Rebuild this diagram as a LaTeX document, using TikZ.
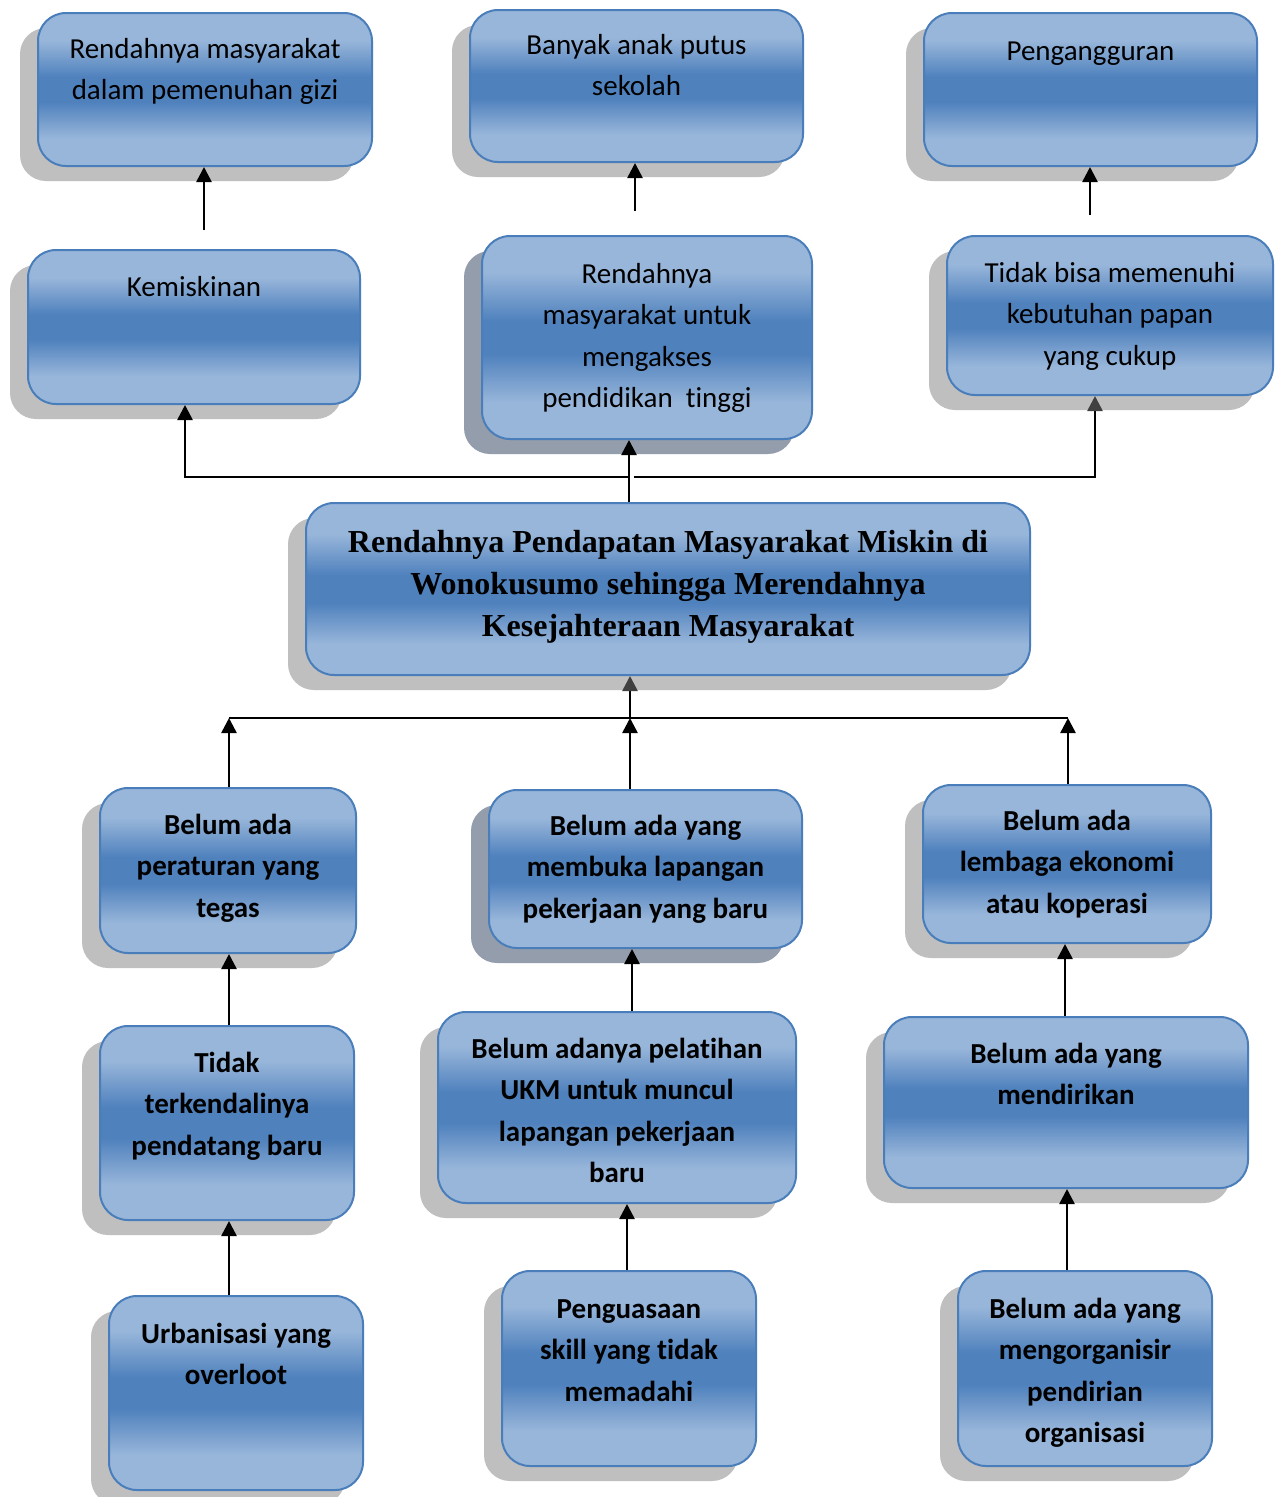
\documentclass[tikz,border=0pt]{standalone}
\usepackage{fontspec}
\setmainfont{Carlito}[Ligatures=NoCommon,Contextuals=NoAlternate]
\newfontfamily\tnr{Liberation Serif}
\usetikzlibrary{arrows.meta}
\definecolor{lb}{RGB}{152,182,218}
\definecolor{db}{RGB}{79,129,189}
\definecolor{bord}{RGB}{74,126,187}
\definecolor{shg}{RGB}{191,191,191}
\definecolor{shb}{RGB}{147,157,171}
\definecolor{hg}{RGB}{64,64,64}
\pgfdeclareverticalshading{boxshade}{100bp}{color(0bp)=(lb); color(25bp)=(lb); color(34bp)=(lb); color(46bp)=(db); color(54bp)=(db); color(66bp)=(lb); color(75bp)=(lb); color(100bp)=(lb)}
\tikzset{
  boxst/.style={draw=bord, line width=2pt, rounded corners=28pt, shading=boxshade, inner sep=0pt},
  txt/.style={align=center, inner sep=0pt, font=\fontsize{29}{41.5}\selectfont},
  btxt/.style={txt, font=\bfseries\fontsize{29}{41.5}\selectfont},
  ctxt/.style={align=center, inner sep=0pt, font=\tnr\bfseries\fontsize{32}{42}\selectfont},
  arr/.style={line width=2.6pt, -{Triangle[length=15pt,width=15pt]}},
  garr/.style={line width=2.6pt, -{Triangle[length=15pt,width=15pt,color=hg]}},
  ln/.style={line width=2.6pt}
}
% #8 = baseline of the LAST text line
\newcommand\cbox[9][txt]{%
  \pgfmathsetmacro\cbW{#5-#3}\pgfmathsetmacro\cbH{#6-#4}%
  \pgfmathsetmacro\cbX{(#3+#5)/2}\pgfmathsetmacro\cbY{(#4+#6)/2}%
  \fill[#7,rounded corners=26pt] (#3-18,#4+15) rectangle (#5-18,#6+15);
  \node[boxst,minimum width=\cbW pt,minimum height=\cbH pt] (#2) at (\cbX,\cbY) {};
  \node[#1,anchor=base] (#2t) at (\cbX,#8) {#9};
}
\begin{document}
\begin{tikzpicture}[x=1pt,y=-1pt]
\useasboundingbox[fill=white] (0,0) rectangle (1280,1497);
% top row
\cbox{A}{38}{13}{372}{166}{shg}{99.5}{Rendahnya masyarakat\\dalam pemenuhan gizi}
\cbox{B}{470}{10}{803}{162}{shg}{95.5}{Banyak anak putus\\sekolah}
\cbox{C}{924}{13}{1257}{166}{shg}{60}{Pengangguran}
% second row
\cbox{D}{28}{250}{360}{404}{shg}{296}{Kemiskinan}
\cbox{E}{482}{236}{812}{439}{shb}{407.5}{Rendahnya\\masyarakat untuk\\mengakses\\pendidikan\ \ tinggi}
\cbox{F}{947}{236}{1273}{395}{shg}{365}{Tidak bisa memenuhi\\kebutuhan papan\\yang cukup}
% center
\cbox[ctxt]{G}{306}{503}{1030}{675}{shg}{636}{Rendahnya Pendapatan Masyarakat Miskin di\\Wonokusumo sehingga Merendahnya\\Kesejahteraan Masyarakat}
% third row
\cbox[btxt]{H}{100}{788}{356}{953}{shg}{917}{Belum ada\\peraturan yang\\tegas}
\cbox[btxt]{I}{489}{790}{802}{948}{shb}{918}{Belum ada yang\\membuka lapangan\\pekerjaan yang baru}
\cbox[btxt]{J}{923}{785}{1211}{943}{shg}{913}{Belum ada\\lembaga ekonomi\\atau koperasi}
% fourth row
\cbox[btxt]{K}{100}{1026}{354}{1220}{shg}{1155}{Tidak\\terkendalinya\\pendatang baru}
\cbox[btxt]{L}{438}{1012}{796}{1203}{shg}{1182.5}{Belum adanya pelatihan\\UKM untuk muncul\\lapangan pekerjaan\\baru}
\cbox[btxt]{M}{884}{1017}{1248}{1188}{shg}{1104.5}{Belum ada yang\\mendirikan}
% fifth row
\cbox[btxt]{N}{109}{1296}{363}{1490}{shg}{1384.5}{Urbanisasi yang\\overloot}
\cbox[btxt]{O}{502}{1271}{756}{1466}{shg}{1401}{Penguasaan\\skill yang tidak\\memadahi}
\cbox[btxt]{P}{958}{1271}{1212}{1466}{shg}{1442.5}{Belum ada yang\\mengorganisir\\pendirian\\organisasi}
% top arrows (free ends)
\coordinate (a1) at (204,230);
\coordinate (a2) at (635,211);
\coordinate (a3) at (1090,215);
\draw[arr] (a1) -- (a1 |- A.south);
\draw[arr] (a2) -- (a2 |- B.south);
\draw[arr] (a3) -- (a3 |- C.south);
% upper tree
\coordinate (hub) at (629,477);
\coordinate (hubR) at (634,477);
\draw[ln] ([xshift=-39pt]G.north) -- (hub);
\draw[arr] (hub) -- (hub |- E.south);
\draw[arr] (hub) -| ([xshift=-9pt]D.south);
\draw[garr] (hubR) -| ([xshift=-15pt]F.south);
% lower tree
\coordinate (lb1) at (229,718);
\coordinate (lb2) at (630,718);
\coordinate (lb3) at (1068,718);
\draw[ln] (lb1) -- (lb3);
\draw[garr] (lb2) -- (lb2 |- G.south);
\draw[arr] (lb1 |- H.north) -- (lb1);
\draw[arr] (lb2 |- I.north) -- (lb2);
\draw[arr] (lb3 |- J.north) -- (lb3);
% lower arrows
\coordinate (c1) at (229,0);
\coordinate (c2) at (632,0);
\coordinate (c3) at (1065,0);
\coordinate (d1) at (229,0);
\coordinate (d2) at (627,0);
\coordinate (d3) at (1067,0);
\draw[arr] (c1 |- K.north) -- (c1 |- H.south);
\draw[arr] (c2 |- L.north) -- (c2 |- I.south);
\draw[arr] (c3 |- M.north) -- (c3 |- J.south);
\draw[arr] (d1 |- N.north) -- (d1 |- K.south);
\draw[arr] (d2 |- O.north) -- (d2 |- L.south);
\draw[arr] (d3 |- P.north) -- (d3 |- M.south);
\end{tikzpicture}
\end{document}
